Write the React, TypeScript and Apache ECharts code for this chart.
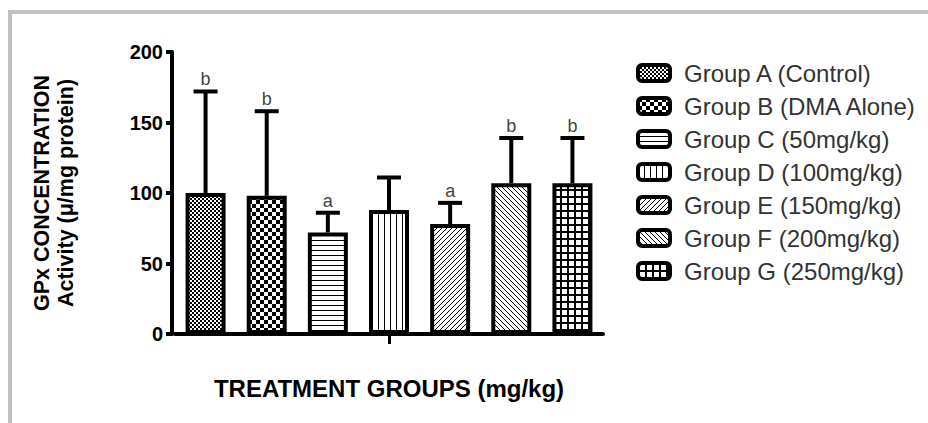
import React, { useEffect, useRef } from 'react';
import * as echarts from 'echarts';

const groups = [
  'Group A (Control)',
  'Group B (DMA Alone)',
  'Group C (50mg/kg)',
  'Group D (100mg/kg)',
  'Group E (150mg/kg)',
  'Group F (200mg/kg)',
  'Group G (250mg/kg)',
];
const means = [100, 98, 72, 88, 78, 107, 107];
const errorTops = [172, 158, 86, 111, 93, 139, 139];
const sigLetters = ['b', 'b', 'a', '', 'a', 'b', 'b'];
const yMin = 0;
const yMax = 200;
const yStep = 50;

const FONT = '"Liberation Sans", Arial, Helvetica, sans-serif';

type Draw = (ctx: CanvasRenderingContext2D, w: number, h: number) => void;

function tile(w: number, h: number, draw: Draw) {
  const c = document.createElement('canvas');
  c.width = w;
  c.height = h;
  const ctx = c.getContext('2d') as CanvasRenderingContext2D;
  ctx.fillStyle = '#fff';
  ctx.fillRect(0, 0, w, h);
  ctx.fillStyle = '#000';
  ctx.strokeStyle = '#000';
  draw(ctx, w, h);
  return { image: c, repeat: 'repeat', imageWidth: w, imageHeight: h } as any;
}

function makePatterns() {
  const fineChecker = tile(4, 4, (ctx) => {
    ctx.fillRect(0, 0, 2, 2);
    ctx.fillRect(2, 2, 2, 2);
  });
  const bigChecker = tile(8, 8, (ctx) => {
    ctx.fillRect(0, 0, 4, 4);
    ctx.fillRect(4, 4, 4, 4);
  });
  const hLines = tile(5, 5, (ctx, w) => {
    ctx.fillRect(0, 0, w, 1);
  });
  const vLines = tile(6, 6, (ctx, w, h) => {
    ctx.fillRect(0, 0, 1, h);
  });
  const diagUp = tile(5, 5, (ctx, w, h) => {
    ctx.lineWidth = 1;
    ctx.beginPath();
    ctx.moveTo(-1, 1);
    ctx.lineTo(1, -1);
    ctx.moveTo(0, h);
    ctx.lineTo(w, 0);
    ctx.moveTo(w - 1, h + 1);
    ctx.lineTo(w + 1, h - 1);
    ctx.stroke();
  });
  const diagDown = tile(5, 5, (ctx, w, h) => {
    ctx.lineWidth = 1;
    ctx.beginPath();
    ctx.moveTo(-1, h - 1);
    ctx.lineTo(1, h + 1);
    ctx.moveTo(0, 0);
    ctx.lineTo(w, h);
    ctx.moveTo(w - 1, -1);
    ctx.lineTo(w + 1, 1);
    ctx.stroke();
  });
  const grid = tile(7, 7, (ctx, w, h) => {
    ctx.fillRect(0, 0, 2, h);
    ctx.fillRect(0, 0, w, 2);
  });
  return [fineChecker, bigChecker, hLines, vLines, diagUp, diagDown, grid];
}

export default function App() {
  const ref = useRef<HTMLDivElement>(null);

  useEffect(() => {
    if (!ref.current) return;
    const chart = echarts.init(ref.current, null, { renderer: 'svg' });
    const patterns = makePatterns();

    const barSeries = groups.map((name, gi) => ({
      name,
      type: 'bar',
      barWidth: 40,
      barGap: '-100%',
      data: means.map((v, i) => (i === gi ? v : '-')),
      itemStyle: {
        color: patterns[gi],
        borderColor: '#000',
        borderWidth: 4,
      },
      z: 2,
    }));

    const errorSeries = {
      type: 'custom',
      name: 'errors',
      z: 3,
      data: means.map((m, i) => [i, m, errorTops[i]]),
      encode: { x: 0, y: [1, 2] },
      renderItem: (params: any, api: any) => {
        const idx = api.value(0);
        const base = api.coord([idx, api.value(1)]);
        const top = api.coord([idx, api.value(2)]);
        const letter = sigLetters[params.dataIndex];
        const children: any[] = [
          {
            type: 'line',
            shape: { x1: top[0], y1: base[1], x2: top[0], y2: top[1] },
            style: { stroke: '#000', lineWidth: 4 },
          },
          {
            type: 'line',
            shape: { x1: top[0] - 12, y1: top[1], x2: top[0] + 12, y2: top[1] },
            style: { stroke: '#000', lineWidth: 4 },
          },
        ];
        if (letter) {
          children.push({
            type: 'text',
            x: top[0],
            y: top[1] - 3,
            style: {
              text: letter,
              fill: '#444',
              fontSize: 18,
              fontFamily: FONT,
              align: 'center',
              verticalAlign: 'bottom',
            },
          });
        }
        return { type: 'group', children };
      },
    };

    chart.setOption({
      animation: false,
      backgroundColor: '#fff',
      grid: { left: 175, top: 52, width: 428, height: 282, containLabel: false },
      legend: {
        orient: 'vertical',
        left: 636,
        top: 61,
        padding: 0,
        itemWidth: 32,
        itemHeight: 16,
        itemGap: 9,
        icon: 'roundRect',
        selectedMode: false,
        data: groups,
        itemStyle: { borderColor: '#000', borderWidth: 4 },
        textStyle: {
          fontSize: 24,
          lineHeight: 20,
          color: '#333',
          fontFamily: FONT,
          padding: [0, 0, 0, 9],
        },
      },
      xAxis: {
        type: 'category',
        data: groups,
        name: 'TREATMENT GROUPS (mg/kg)',
        nameLocation: 'middle',
        nameGap: 42,
        nameTextStyle: { fontSize: 24, fontWeight: 'bold', color: '#000', fontFamily: FONT },
        axisLine: { show: true, lineStyle: { color: '#000', width: 4 } },
        axisTick: {
          show: true,
          alignWithLabel: true,
          interval: (index: number) => index === 3,
          length: 10,
          lineStyle: { color: '#000', width: 3 },
        },
        axisLabel: { show: false },
        splitLine: { show: false },
      },
      yAxis: {
        type: 'value',
        min: yMin,
        max: yMax,
        interval: yStep,
        offset: 3,
        name: 'GPx CONCENTRATION\nActivity (μ/mg protein)',
        nameLocation: 'middle',
        nameRotate: 90,
        nameGap: 94,
        nameTextStyle: {
          fontSize: 21.5,
          fontWeight: 'bold',
          lineHeight: 24,
          color: '#000',
          fontFamily: FONT,
        },
        axisLine: { show: true, lineStyle: { color: '#000', width: 4 } },
        axisTick: { show: true, length: 6, lineStyle: { color: '#000', width: 4 } },
        axisLabel: {
          margin: 9,
          fontSize: 20,
          fontWeight: 'bold',
          color: '#000',
          fontFamily: FONT,
        },
        splitLine: { show: false },
      },
      graphic: [
        {
          type: 'line',
          silent: true,
          shape: { x1: 8, y1: 12, x2: 928, y2: 12 },
          style: { stroke: '#c0c0c0', lineWidth: 4 },
        },
        {
          type: 'line',
          silent: true,
          shape: { x1: 10, y1: 10, x2: 10, y2: 423 },
          style: { stroke: '#c0c0c0', lineWidth: 4 },
        },
      ],
      series: [...barSeries, errorSeries],
    } as any);

    return () => chart.dispose();
  }, []);

  return (
    <div
      ref={ref}
      style={{ position: 'fixed', left: 0, top: 0, width: 928, height: 423, background: '#fff' }}
    />
  );
}
